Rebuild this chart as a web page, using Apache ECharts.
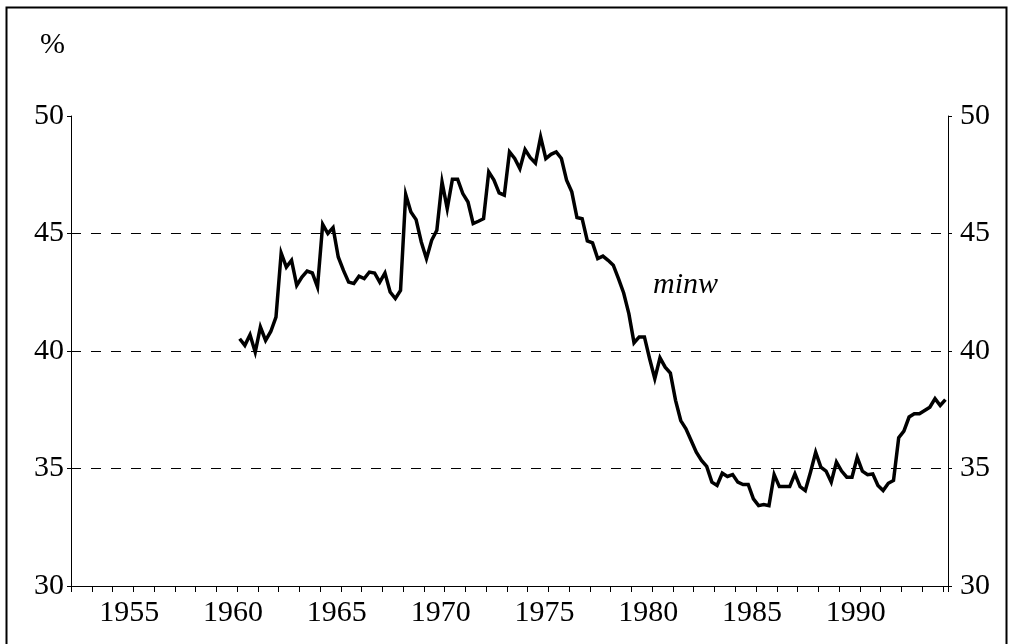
<!DOCTYPE html>
<html>
<head>
<meta charset="utf-8">
<script src="https://cdn.jsdelivr.net/npm/echarts@6/dist/echarts.min.js"></script>
<style>
html,body{margin:0;padding:0;background:#fff;}
#chart{width:1009px;height:644px;}
</style>
</head>
<body>
<div id="chart"></div>
<script>
// Quarterly series, 1960Q1 .. 1994Q1
var startYear = 1960;
var seriesName = 'minw';
var minw = [
  40.52, 40.24, 40.69, 39.95, 41.02, 40.45, 40.83, 41.44,
  44.17, 43.57, 43.86, 42.79, 43.15, 43.40, 43.32, 42.72,
  45.39, 45.00, 45.25, 44.00, 43.43, 42.93, 42.87, 43.18,
  43.08, 43.36, 43.32, 42.93, 43.32, 42.51, 42.23, 42.58,
  46.66, 45.92, 45.59, 44.64, 43.93, 44.71, 45.14, 47.19,
  46.06, 47.31, 47.31, 46.70, 46.34, 45.42, 45.52, 45.63,
  47.62, 47.27, 46.73, 46.63, 48.47, 48.19, 47.76, 48.57,
  48.23, 48.00, 49.11, 48.19, 48.37, 48.47, 48.19, 47.27,
  46.77, 45.68, 45.63, 44.68, 44.60, 43.93, 44.04, 43.86,
  43.65, 43.08, 42.47, 41.59, 40.35, 40.60, 40.60, 39.67,
  38.82, 39.71, 39.31, 39.06, 37.90, 37.04, 36.69, 36.19,
  35.69, 35.34, 35.09, 34.42, 34.28, 34.80, 34.66, 34.74,
  34.42, 34.32, 34.32, 33.71, 33.42, 33.47, 33.42, 34.74,
  34.23, 34.23, 34.23, 34.77, 34.23, 34.06, 34.84, 35.69,
  35.06, 34.89, 34.42, 35.27, 34.89, 34.63, 34.63, 35.48,
  34.89, 34.74, 34.77, 34.28, 34.06, 34.37, 34.49, 36.31,
  36.59, 37.19, 37.33, 37.33, 37.47, 37.61, 37.97, 37.68,
  37.93
];
var yTicks = [30, 35, 40, 45, 50];
var xLabelYears = [1955, 1960, 1965, 1970, 1975, 1980, 1985, 1990];
var unitLabel = '%';

var FONT = 'Liberation Serif';
var data = minw.map(function (v, i) {
  return [startYear + i / 4 + 0.125, v];
});

var chart = echarts.init(document.getElementById('chart'), null, {renderer: 'canvas'});
var yAxisBase = {
  type: 'value',
  min: yTicks[0],
  max: yTicks[yTicks.length - 1],
  interval: yTicks[1] - yTicks[0],
  axisLine: {show: true, lineStyle: {color: '#000', width: 1}},
  axisTick: {show: true, inside: false, length: 4, lineStyle: {color: '#000', width: 1}},
  axisLabel: {
    color: '#000', fontFamily: FONT, fontSize: 30,
    padding: [8, 0, 0, 0]
  }
};
chart.setOption({
  animation: false,
  backgroundColor: '#fff',
  grid: {left: 71, right: 61, top: 116, bottom: 58, containLabel: false},
  xAxis: {
    type: 'value',
    min: 1952,
    max: 1994.25,
    interval: 1,
    axisLine: {show: true, onZero: false, lineStyle: {color: '#000', width: 1}},
    axisTick: {show: true, inside: false, length: 6, lineStyle: {color: '#000', width: 1}},
    splitLine: {show: false},
    axisLabel: {
      color: '#000', fontFamily: FONT, fontSize: 30, margin: 12,
      padding: [0, 8, 0, 0],
      showMinLabel: true, showMaxLabel: true,
      formatter: function (v) {
        return xLabelYears.indexOf(Math.round(v)) >= 0 && Math.abs(v - Math.round(v)) < 1e-6 ? String(Math.round(v)) : '';
      }
    }
  },
  yAxis: [
    Object.assign({}, yAxisBase, {
      position: 'left',
      axisLabel: Object.assign({}, yAxisBase.axisLabel, {margin: 7}),
      splitLine: {show: true, showMinLine: false, showMaxLine: false,
        lineStyle: {color: '#000', width: 1, type: [10, 10]}}
    }),
    Object.assign({}, yAxisBase, {
      position: 'right',
      axisLabel: Object.assign({}, yAxisBase.axisLabel, {margin: 12}),
      splitLine: {show: false}
    })
  ],
  series: [{
    name: seriesName,
    type: 'line',
    data: data,
    showSymbol: false,
    symbol: 'none',
    lineStyle: {color: '#000', width: 3.5, join: 'miter'},
    z: 5
  }],
  graphic: [
    {type: 'rect', left: 4, top: 5, shape: {width: 1000, height: 660},
      style: {fill: 'none', stroke: '#000', lineWidth: 2}, silent: true},
    {type: 'text', left: 40, top: 30,
      style: {text: unitLabel, font: '30px "Liberation Serif"', fill: '#000'}},
    {type: 'text', left: 653, top: 270,
      style: {text: seriesName, font: 'italic 30px "Liberation Serif"', fill: '#000'}}
  ]
});
</script>
</body>
</html>
